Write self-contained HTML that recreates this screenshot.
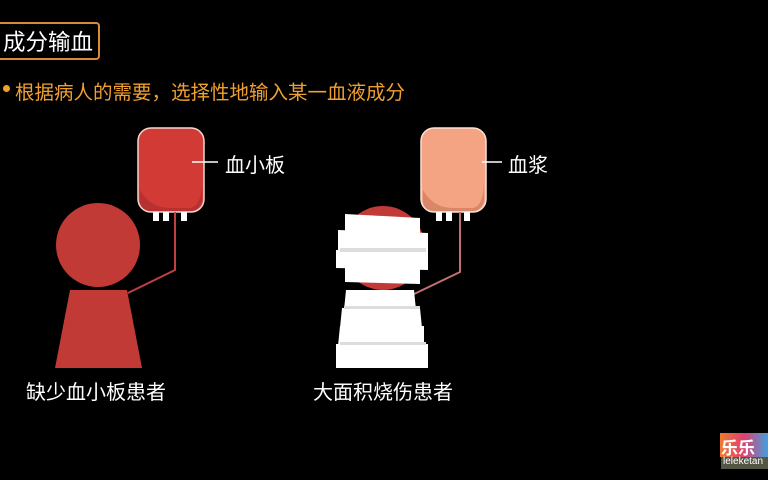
<!DOCTYPE html><html><head><meta charset="utf-8"><style>
body{margin:0;width:768px;height:480px;background:#000;overflow:hidden;position:relative;font-family:"Liberation Sans","Noto Sans CJK SC",sans-serif}
.t{position:absolute;white-space:nowrap}
</style></head><body>
<div style="position:absolute;left:-4px;top:22px;width:104px;height:38px;border:2px solid #d98a3a;border-radius:4px;box-sizing:border-box"></div>
<div class="t" style="left:3px;top:25px;font-size:22.5px;color:#fff">成分输血</div>
<div style="position:absolute;left:3px;top:85px;width:7px;height:7px;border-radius:50%;background:#f0a030"></div>
<div class="t" style="left:15px;top:76px;font-size:19.5px;color:#f0a030">根据病人的需要，选择性地输入某一血液成分</div>
<svg width="768" height="480" style="position:absolute;left:0;top:0">
<rect x="138" y="128" width="66" height="84" rx="13" fill="#d23a36" stroke="#f5d8d0" stroke-width="1.5"/>
<path d="M140 190 Q150 208 170 208 L190 208 Q202 206 202 180 L202 200 Q200 211 190 211 L150 211 Q140 210 140 200Z" fill="#b83030"/>
<g fill="#fff"><rect x="153" y="212" width="6" height="9"/><rect x="163" y="212" width="6" height="9"/><rect x="181" y="212" width="6" height="9"/></g>
<polyline points="175,212 175,270 128,293" fill="none" stroke="#c04040" stroke-width="2"/>
<line x1="192" y1="162" x2="218" y2="162" stroke="#fff" stroke-width="1.5"/>
<circle cx="98" cy="245" r="42" fill="#c23a36"/>
<polygon points="70,290 127,290 142,368 55,368" fill="#c23a36"/>
<rect x="421" y="128" width="65" height="84" rx="13" fill="#f4a383" stroke="#fbe0d4" stroke-width="1.5"/>
<path d="M423 190 Q433 208 453 208 L473 208 Q484 206 484 180 L484 200 Q482 211 472 211 L433 211 Q423 210 423 200Z" fill="#d88868"/>
<g fill="#fff"><rect x="436" y="212" width="6" height="9"/><rect x="446" y="212" width="6" height="9"/><rect x="464" y="212" width="6" height="9"/></g>
<polyline points="460,212 460,272 412,295" fill="none" stroke="#c07070" stroke-width="2"/>
<line x1="482" y1="162" x2="502" y2="162" stroke="#fff" stroke-width="1.5"/>
<circle cx="383" cy="248" r="42" fill="#c23a36"/>
<g fill="#fff">
<polygon points="345,214 420,218 420,234 345,232"/>
<polygon points="338,230 428,233 428,252 338,250"/>
<polygon points="336,250 428,252 428,270 336,268"/>
<polygon points="345,266 420,268 420,284 345,282"/>
<polygon points="346,290 414,290 416,310 344,310"/>
<polygon points="342,308 420,308 422,328 340,328"/>
<polygon points="340,326 424,326 424,346 338,346"/>
<polygon points="336,344 428,344 428,368 336,368"/>
</g>
<g fill="#ddd"><rect x="340" y="248" width="86" height="4"/><rect x="344" y="306" width="76" height="3"/><rect x="340" y="342" width="86" height="3"/></g>
</svg>
<div class="t" style="left:225px;top:149px;font-size:20px;color:#fff">血小板</div>
<div class="t" style="left:508px;top:149px;font-size:20px;color:#fff">血浆</div>
<div class="t" style="left:26px;top:376px;font-size:20px;color:#fff">缺少血小板患者</div>
<div class="t" style="left:313px;top:376px;font-size:20px;color:#fff">大面积烧伤患者</div>
<div style="position:absolute;left:720px;top:433px;width:48px;height:24px;background:linear-gradient(90deg,#f07a30,#e04070,#40a0e0)"></div>
<div class="t" style="left:721px;top:434px;font-size:17px;color:#fff;font-weight:bold">乐乐</div>
<div style="position:absolute;left:721px;top:457px;width:47px;height:12px;background:#554"></div>
<div class="t" style="left:723px;top:456px;font-size:10px;color:#fff">leleketan</div>
</body></html>
